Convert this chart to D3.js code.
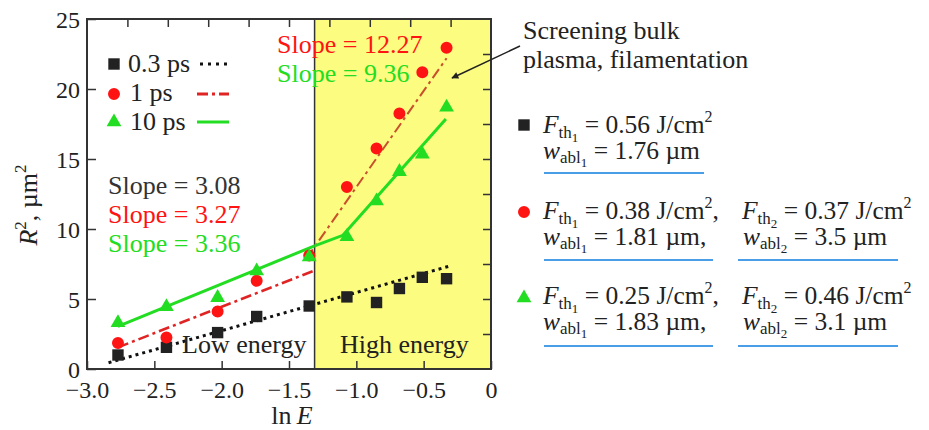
<!DOCTYPE html>
<html>
<head>
<meta charset="utf-8">
<script src="https://cdn.jsdelivr.net/npm/d3@7"></script>
</head>
<body style="margin:0">
<script>
// data
var lnE   = [-2.77, -2.41, -2.03, -1.74, -1.35, -1.07, -0.85, -0.68, -0.51, -0.33];
var r2_03 = [1.0, 1.55, 2.6, 3.75, 4.5, 5.15, 4.75, 5.75, 6.55, 6.45];
var r2_1  = [1.85, 2.25, 4.1, 6.3, 8.1, 13.0, 15.75, 18.25, 21.2, 22.95];
var r2_10 = [3.3, 4.45, 5.1, 7.0, 8.0, 9.45, 12.0, 14.1, 15.35, 18.7];

// fitted lines [lnE, R2]
var fit03     = [[-2.84, 0.45], [-0.29, 7.4]];
var fit1Low   = [[-2.77, 1.55], [-1.32, 7.0]];
var fit1High  = [[-1.37, 7.9], [-0.33, 22.2]];
var fit10Low  = [[-2.77, 3.05], [-1.31, 8.8]];
var fit10High = [[-1.31, 8.8], [-1.10, 9.55], [-0.335, 17.85]];

var boundary = -1.31;
var xTicks = [-3, -2.5, -2, -1.5, -1, -0.5, 0];
var yTicks = [0, 5, 10, 15, 20, 25];
var topTicks = [-2.7, -2.4, -2.1, -1.8, -1.5, -1.2, -0.9, -0.6, -0.3];
var rightTicks = [2.5, 5, 7.5, 10, 12.5, 15, 17.5, 20, 22.5];
var legendLabels = ["0.3 ps", "1 ps", "10 ps"];
var slopeLow = ["Slope = 3.08", "Slope = 3.27", "Slope = 3.36"];
var slopeHigh = ["Slope = 12.27", "Slope = 9.36"];

var width = 929, height = 430;
var col = { black: "#222", red: "#ff1414", green: "#22dd22", grey: "#333",
            brown: "#c8502a", redLine: "#e02424", blue: "#4a9ee8" };

var svg = d3.select("body").append("svg")
    .attr("width", width)
    .attr("height", height);

var x = d3.scaleLinear().domain([-3, 0]).range([87, 491]);
var y = d3.scaleLinear().domain([0, 25]).range([369, 19]);

// plain text in the serif face
function txt(px, py, size, fill, s){
    return svg.append("text").attr("x", px).attr("y", py)
        .attr("font-size", size)
        .style("font-family", "Liberation Serif")
        .attr("fill", fill).text(s);
}

// high energy zone
svg.append("rect")
    .attr("x", x(boundary)).attr("y", y(25))
    .attr("width", x(0) - x(boundary)).attr("height", y(0) - y(25))
    .attr("fill", "#fcfc80");
svg.append("line")
    .attr("x1", x(boundary)).attr("x2", x(boundary))
    .attr("y1", y(25)).attr("y2", y(0))
    .attr("stroke", col.grey).attr("stroke-width", 1.5);

// axes
var fmt = function(d){ return d === 0 ? "0" : d3.format(".1f")(d); };
var gx = svg.append("g").attr("transform", "translate(0," + y(0) + ")")
    .call(d3.axisBottom(x).tickValues(xTicks).tickSize(-8).tickPadding(12).tickFormat(fmt));
var gy = svg.append("g").attr("transform", "translate(" + x(-3) + ",0)")
    .call(d3.axisLeft(y).tickValues(yTicks).tickSize(-9).tickPadding(7));
var gt = svg.append("g").attr("transform", "translate(0," + y(25) + ")")
    .call(d3.axisTop(x).tickValues(topTicks).tickSize(-8).tickFormat(""));
var gr = svg.append("g").attr("transform", "translate(" + x(0) + ",0)")
    .call(d3.axisRight(y).tickValues(rightTicks).tickSize(-8).tickFormat(""));
[gx, gy, gt, gr].forEach(function(g){
    g.select(".domain").remove();
    g.attr("font-family", "Liberation Serif").attr("font-size", 24);
    g.selectAll(".tick line").attr("stroke", col.grey).attr("stroke-width", 1.5);
    g.selectAll("text").style("font-family", "Liberation Serif").attr("fill", "#222");
});
gy.selectAll("text").attr("dy", "0.34em");

svg.append("rect")
    .attr("x", x(-3)).attr("y", y(25))
    .attr("width", x(0) - x(-3)).attr("height", y(0) - y(25))
    .attr("fill", "none").attr("stroke", col.grey).attr("stroke-width", 2);

// fit lines
var line = d3.line().x(function(d){ return x(d[0]); }).y(function(d){ return y(d[1]); });
function fit(data, color, w, dash){
    svg.append("path").datum(data)
        .attr("d", line).attr("fill", "none")
        .attr("stroke", color).attr("stroke-width", w)
        .attr("stroke-dasharray", dash);
}
fit(fit03, "#111", 3, "3,4");
fit(fit1Low, col.redLine, 2.5, "11,4,3,4");
fit(fit1High, col.brown, 2, "11,4,3,4");
fit(fit10Low, col.green, 3, null);
fit(fit10High, col.green, 3, null);

// markers
var sq = d3.symbol().type(d3.symbolSquare).size(130);
var ci = d3.symbol().type(d3.symbolCircle).size(113);
var tr = d3.symbol().type(d3.symbolTriangle).size(95);
function markers(vals, sym, color){
    svg.append("g").selectAll("path")
        .data(vals).enter().append("path")
        .attr("d", sym)
        .attr("transform", function(d, i){ return "translate(" + x(lnE[i]) + "," + y(d) + ")"; })
        .attr("fill", color);
}
markers(r2_03, sq, col.black);
markers(r2_1, ci, col.red);
markers(r2_10, tr, col.green);

// legend in plot
var legY = [64, 94, 122];
var legSyms = [sq, ci, tr];
var legCols = [col.black, col.red, col.green];
var legBase = [72, 101, 130];
legendLabels.forEach(function(l, i){
    svg.append("path").attr("d", legSyms[i]).attr("fill", legCols[i])
        .attr("transform", "translate(114," + legY[i] + ")");
    txt(i === 0 ? 128 : 130, legBase[i], 26, "#222", l);
});
svg.append("line").attr("x1", 200).attr("x2", 229).attr("y1", 64).attr("y2", 64)
    .attr("stroke", "#111").attr("stroke-width", 3).attr("stroke-dasharray", "3,5");
svg.append("line").attr("x1", 197).attr("x2", 229).attr("y1", 94).attr("y2", 94)
    .attr("stroke", col.redLine).attr("stroke-width", 3).attr("stroke-dasharray", "11,4,3,4");
svg.append("line").attr("x1", 197).attr("x2", 229).attr("y1", 122).attr("y2", 122)
    .attr("stroke", col.green).attr("stroke-width", 3);

// slope labels
var lowCols = [col.grey, col.red, col.green];
slopeLow.forEach(function(s, i){
    txt(108, 194 + i * 29, 26, lowCols[i], s);
});
var highCols = [col.red, col.green];
slopeHigh.forEach(function(s, i){
    txt(277, 53 + i * 29, 26, highCols[i], s);
});

txt(182, 353, 26, "#222", "Low energy");
txt(340, 353, 26, "#222", "High energy");

// text with sub/superscripts: parts carry an offset from the baseline
function rich(px, py, parts, rotate){
    var t = svg.append("text").attr("x", px).attr("y", py).attr("fill", "#222")
        .style("font-family", "Liberation Serif");
    if (rotate) t.attr("transform", rotate).attr("text-anchor", "middle");
    var prev = 0;
    parts.forEach(function(p){
        var off = p.off || 0;
        t.append("tspan").attr("dy", off - prev)
            .attr("font-size", p.size || 25.5)
            .attr("font-style", p.it ? "italic" : null)
            .text(p.t);
        prev = off;
    });
    return t;
}

// axis titles
rich(292, 424, [{t: "ln", size: 26}, {t: "\u2009E", it: 1, size: 26}]).attr("text-anchor", "middle");
rich(0, 0, [{t: "R", it: 1, size: 26}, {t: "2", size: 17, off: -11}, {t: ", \u00b5m", off: 0, size: 26}, {t: "2", size: 17, off: -11}],
    "translate(37,205) rotate(-90)");

// annotation
txt(523, 39, 26, "#222", "Screening bulk");
txt(523, 68, 26, "#222", "plasma, filamentation");
svg.append("defs").append("marker")
    .attr("id", "ah").attr("viewBox", "0 0 10 10").attr("refX", 9).attr("refY", 5)
    .attr("markerWidth", 10).attr("markerHeight", 7).attr("orient", "auto")
    .attr("markerUnits", "userSpaceOnUse")
    .append("path").attr("d", "M0,0L10,5L0,10z").attr("fill", "#222");
svg.append("line").attr("x1", 520).attr("y1", 46).attr("x2", 452).attr("y2", 78)
    .attr("stroke", "#222").attr("stroke-width", 1.5).attr("marker-end", "url(#ah)");

// right hand legend
function F(sub, val, tail){
    return [{t: "F", it: 1}, {t: "th", size: 17, off: 5}, {t: sub, size: 13, off: 9},
            {t: "\u00a0= " + val + " J/cm", off: 0}, {t: "2", size: 16, off: -11}, {t: tail || "", off: 0}];
}
function W(sub, val, tail){
    return [{t: "w", it: 1}, {t: "abl", size: 17, off: 4}, {t: sub, size: 13, off: 8},
            {t: "\u00a0= " + val + " \u00b5m" + (tail || ""), off: 0}];
}
var rows = [
    { sym: sq, c: col.black, y: 125, b1: 133, b2: 159, u: 173,
      f1: "0.56", w1: "1.76", f2: null, w2: null },
    { sym: ci, c: col.red, y: 212, b1: 219, b2: 245, u: 260,
      f1: "0.38", w1: "1.81", f2: "0.37", w2: "3.5" },
    { sym: tr, c: col.green, y: 298, b1: 304, b2: 330, u: 346,
      f1: "0.25", w1: "1.83", f2: "0.46", w2: "3.1" }
];
rows.forEach(function(r){
    svg.append("path").attr("d", r.sym).attr("fill", r.c)
        .attr("transform", "translate(524," + r.y + ")");
    rich(543, r.b1, F("1", r.f1, r.f2 ? "," : ""));
    rich(543, r.b2, W("1", r.w1, r.f2 ? "," : ""));
    if (r.f2) {
        rich(742, r.b1, F("2", r.f2));
        rich(743, r.b2, W("2", r.w2));
        svg.append("line").attr("x1", 544).attr("x2", 713).attr("y1", r.u).attr("y2", r.u)
            .attr("stroke", col.blue).attr("stroke-width", 2);
        svg.append("line").attr("x1", 738).attr("x2", 898).attr("y1", r.u).attr("y2", r.u)
            .attr("stroke", col.blue).attr("stroke-width", 2);
    } else {
        svg.append("line").attr("x1", 544).attr("x2", 704).attr("y1", r.u).attr("y2", r.u)
            .attr("stroke", col.blue).attr("stroke-width", 2);
    }
});
</script>
</body>
</html>
